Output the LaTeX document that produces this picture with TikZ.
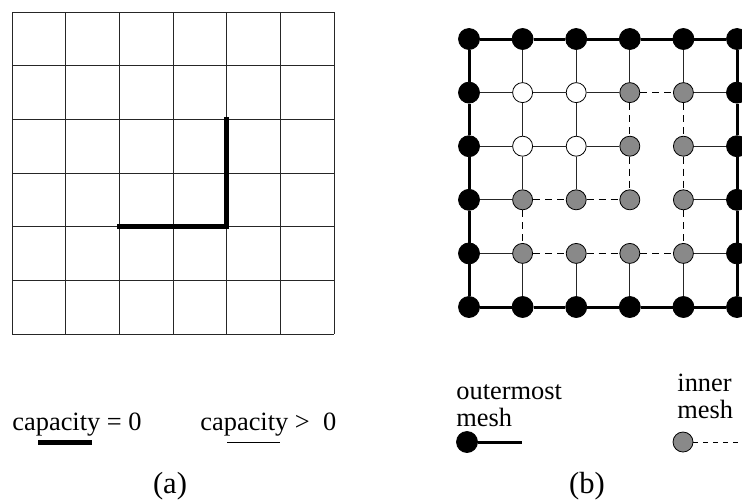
\documentclass[tikz,border=0pt]{standalone}
\usepackage{fontspec}
\setmainfont{Liberation Serif}
\usetikzlibrary{positioning}
\definecolor{meshgray}{RGB}{137,137,137}
\tikzset{
    gridline/.style={line width=0.5pt, draw=black!85},
    cutline/.style={line width=2.5pt, line cap=rect},
    outernode/.style={circle, draw=black, fill=black, inner sep=0pt, minimum size=10.5pt},
    innernode/.style={circle, draw=black, line width=0.4pt, fill=meshgray, inner sep=0pt, minimum size=10pt},
    freenode/.style={circle, draw=black, line width=0.4pt, fill=white, inner sep=0pt, minimum size=10pt},
    outerlink/.style={line width=1.5pt},
    solidlink/.style={line width=0.5pt, draw=black!85},
    innerlink/.style={line width=0.5pt, dash pattern=on 3.5pt off 2.5pt},
    legendtext/.style={font=\fontsize{13.2}{13.5}\selectfont, inner sep=0pt},
    caption/.style={font=\fontsize{15.3}{18}\selectfont, inner sep=0pt}
}

\begin{document}
\begin{tikzpicture}[x=0.5pt, y=-0.5pt]
\useasboundingbox (0,0) rectangle (742,500);

% (a) capacity grid
\foreach \i in {0,...,6} {
    \draw[gridline] ({12+53.67*\i},12) -- ({12+53.67*\i},334);
    \draw[gridline] (12,{12+53.67*\i}) -- (334,{12+53.67*\i});
}
\coordinate (cut-start) at (119.3,226.7);
\coordinate (cut-corner) at (226.7,226.7);
\coordinate (cut-end) at (226.7,119.3);
\draw[cutline] (cut-start) -- (cut-corner) -- (cut-end);

% (b) mesh nodes
\foreach \r in {0,...,5}
    \foreach \c in {0,...,5} {
        \ifnum\r=0 \def\kind{outernode}\else
        \ifnum\r=5 \def\kind{outernode}\else
        \ifnum\c=0 \def\kind{outernode}\else
        \ifnum\c=5 \def\kind{outernode}\else
        \def\kind{innernode}\fi\fi\fi\fi
        \ifnum\r<3 \ifnum\c<3 \ifnum\r>0 \ifnum\c>0 \def\kind{freenode}\fi\fi\fi\fi
        \node[\kind] (m-\r-\c) at ({469+53.6*\c},{39+53.6*\r}) {};
    }

% outermost mesh
\foreach \a/\b in {0/1,1/2,2/3,3/4,4/5} {
    \draw[outerlink] (m-0-\a) -- (m-0-\b);
    \draw[outerlink] (m-5-\a) -- (m-5-\b);
    \draw[outerlink] (m-\a-0) -- (m-\b-0);
    \draw[outerlink] (m-\a-5) -- (m-\b-5);
}

% thin links
\foreach \r/\a/\b in {1/0/1,2/0/1,3/0/1,4/0/1,1/4/5,2/4/5,3/4/5,4/4/5,1/1/2,1/2/3,2/1/2,2/2/3}
    \draw[solidlink] (m-\r-\a) -- (m-\r-\b);
\foreach \c/\a/\b in {1/0/1,2/0/1,3/0/1,4/0/1,1/4/5,2/4/5,3/4/5,4/4/5,1/1/2,2/1/2,1/2/3,2/2/3}
    \draw[solidlink] (m-\a-\c) -- (m-\b-\c);

% inner mesh
\foreach \r/\a/\b in {1/3/4,3/1/2,3/2/3,4/1/2,4/2/3,4/3/4}
    \draw[innerlink] (m-\r-\a) -- (m-\r-\b);
\foreach \c/\a/\b in {3/1/2,4/1/2,3/2/3,4/2/3,1/3/4,4/3/4}
    \draw[innerlink] (m-\a-\c) -- (m-\b-\c);

% legend (a)
\node[legendtext, anchor=base west] (zero-text) at (12,430) {capacity = 0};
\coordinate (zero-start) at (38,442);
\coordinate (zero-end) at (92,442);
\draw[line width=2.5pt] (zero-start) -- (zero-end);
\node[legendtext, anchor=base west] (pos-text) at (200,430) {capacity >\ \ 0};
\coordinate (pos-start) at (227,442);
\coordinate (pos-end) at (280,442);
\draw[line width=0.5pt] (pos-start) -- (pos-end);

% legend (b)
\node[legendtext, anchor=base west, align=left] (outer-text) at (456,426) {outermost\\mesh};
\node[outernode] (outer-dot) at (467,442) {};
\coordinate (outer-end) at (522,442);
\draw[outerlink] (outer-dot) -- (outer-end);
\node[legendtext, anchor=base west, align=left] (inner-text) at (677,418) {inner\\mesh};
\node[innernode] (inner-dot) at (683,442) {};
\coordinate (inner-end) at (742,442);
\draw[innerlink, dash pattern=on 2.5pt off 2.5pt] (inner-dot) -- (inner-end);

% captions
\node[caption] (cap-a) at (170,486) {(a)};
\node[caption] (cap-b) at (587,486) {(b)};
\end{tikzpicture}
\end{document}
